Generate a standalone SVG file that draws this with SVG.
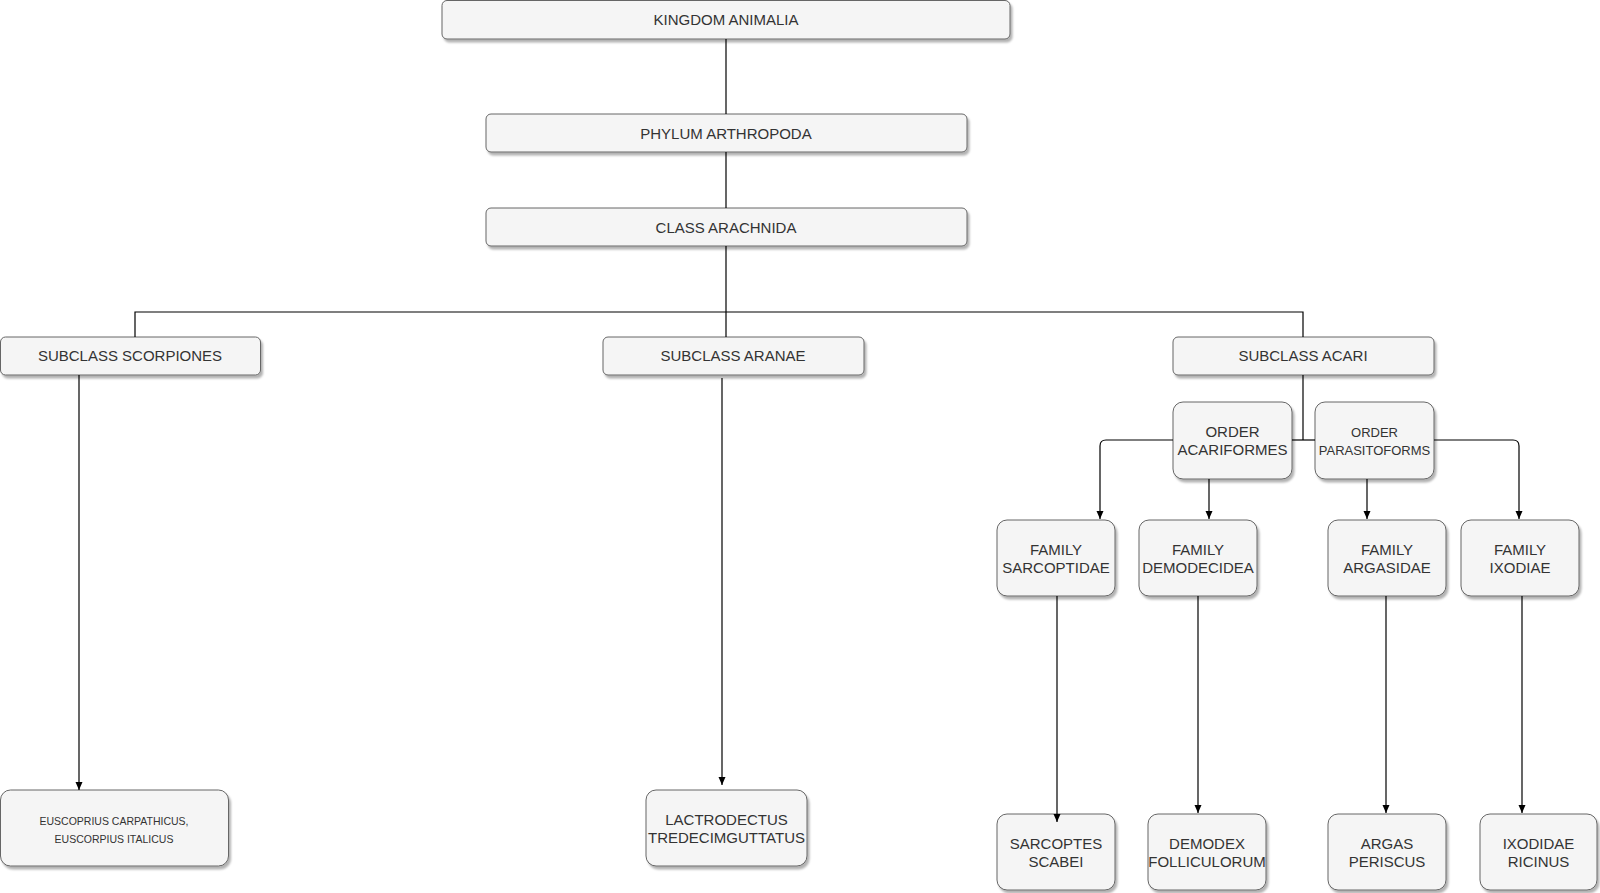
<svg xmlns="http://www.w3.org/2000/svg" width="1600" height="893" viewBox="0 0 1600 893">
<style>
.n rect{fill:#f5f5f5;stroke:#666666;stroke-width:1;filter:url(#sh)}
.n text{font-family:"Liberation Sans",Arial,sans-serif;font-size:15px;fill:#333333;text-anchor:middle;dominant-baseline:central}
.n text.s{font-size:13px}
.n text.xs{font-size:10.5px}
.c path{fill:none;stroke:#000000;stroke-width:1.2}
.c path.a{marker-end:url(#ar)}
</style>
<defs>
<filter id="sh" x="-10%" y="-10%" width="130%" height="140%">
<feDropShadow dx="2" dy="3" stdDeviation="1.3" flood-color="#000" flood-opacity="0.3"/>
</filter>
<marker id="ar" markerUnits="userSpaceOnUse" markerWidth="9" markerHeight="8" refX="8" refY="3.5" orient="auto">
<path d="M0,0 L8,3.5 L0,7 Z" fill="#000"/>
</marker>
</defs>
<g class="n" id="kingdom"><rect x="442" y="0.5" width="568" height="38.5" rx="5"/><text x="726" y="19">KINGDOM ANIMALIA</text></g>
<g class="n" id="phylum"><rect x="486" y="114" width="481" height="38" rx="5"/><text x="726" y="133">PHYLUM ARTHROPODA</text></g>
<g class="n" id="class"><rect x="486" y="208" width="481" height="38" rx="5"/><text x="726" y="227">CLASS ARACHNIDA</text></g>
<g class="n" id="scorpiones"><rect x="0.5" y="337" width="260" height="38" rx="5"/><text x="130" y="355">SUBCLASS SCORPIONES</text></g>
<g class="n" id="aranae"><rect x="603" y="337" width="261" height="38" rx="5"/><text x="733" y="355">SUBCLASS ARANAE</text></g>
<g class="n" id="acari"><rect x="1173" y="337" width="261" height="38" rx="5"/><text x="1303" y="355">SUBCLASS ACARI</text></g>
<g class="n" id="acariformes"><rect x="1173" y="402" width="119" height="77" rx="10"/><text x="1232.5" y="431">ORDER</text><text x="1232.5" y="449">ACARIFORMES</text></g>
<g class="n" id="parasitoforms"><rect x="1315" y="402" width="119" height="77" rx="10"/><text class="s" x="1374.5" y="432">ORDER</text><text class="s" x="1374.5" y="450">PARASITOFORMS</text></g>
<g class="n" id="sarcoptidae"><rect x="997" y="520" width="118" height="76" rx="10"/><text x="1056" y="549">FAMILY</text><text x="1056" y="567">SARCOPTIDAE</text></g>
<g class="n" id="demodecidea"><rect x="1139" y="520" width="118" height="76" rx="10"/><text x="1198" y="549">FAMILY</text><text x="1198" y="567">DEMODECIDEA</text></g>
<g class="n" id="argasidae"><rect x="1328" y="520" width="118" height="76" rx="10"/><text x="1387" y="549">FAMILY</text><text x="1387" y="567">ARGASIDAE</text></g>
<g class="n" id="ixodiae"><rect x="1461" y="520" width="118" height="76" rx="10"/><text x="1520" y="549">FAMILY</text><text x="1520" y="567">IXODIAE</text></g>
<g class="n" id="euscorpius"><rect x="0.5" y="790" width="228" height="76" rx="10"/><text class="xs" x="114" y="821">EUSCOPRIUS CARPATHICUS,</text><text class="xs" x="114" y="839">EUSCORPIUS ITALICUS</text></g>
<g class="n" id="lactrodectus"><rect x="646" y="790" width="161" height="76" rx="10"/><text x="726.5" y="819">LACTRODECTUS</text><text x="726.5" y="837">TREDECIMGUTTATUS</text></g>
<g class="n" id="sarcoptes"><rect x="997" y="814" width="118" height="76" rx="10"/><text x="1056" y="843">SARCOPTES</text><text x="1056" y="861">SCABEI</text></g>
<g class="n" id="demodex"><rect x="1148" y="814" width="118" height="76" rx="10"/><text x="1207" y="843">DEMODEX</text><text x="1207" y="861">FOLLICULORUM</text></g>
<g class="n" id="argas"><rect x="1328" y="814" width="118" height="76" rx="10"/><text x="1387" y="843">ARGAS</text><text x="1387" y="861">PERISCUS</text></g>
<g class="n" id="ixodidae"><rect x="1480" y="814" width="117" height="76" rx="10"/><text x="1538.5" y="843">IXODIDAE</text><text x="1538.5" y="861">RICINUS</text></g>
<g class="c" id="connectors">
<path d="M726,39 V114"/>
<path d="M726,152 V208"/>
<path d="M726,246 V337"/>
<path d="M135,337 V312 H1303 V337"/>
<path class="a" d="M79,375 V790"/>
<path class="a" d="M722,378 V785"/>
<path d="M1303,375 V440"/>
<path d="M1292,440 H1315"/>
<path class="a" d="M1173,440 H1106 Q1100,440 1100,446 V519"/>
<path class="a" d="M1209,479 V519"/>
<path class="a" d="M1367,479 V519"/>
<path class="a" d="M1434,440 H1513 Q1519,440 1519,446 V519"/>
<path class="a" d="M1057,596 V822"/>
<path class="a" d="M1198,596 V813"/>
<path class="a" d="M1386,596 V813"/>
<path class="a" d="M1522,596 V813"/>
</g>
</svg>
